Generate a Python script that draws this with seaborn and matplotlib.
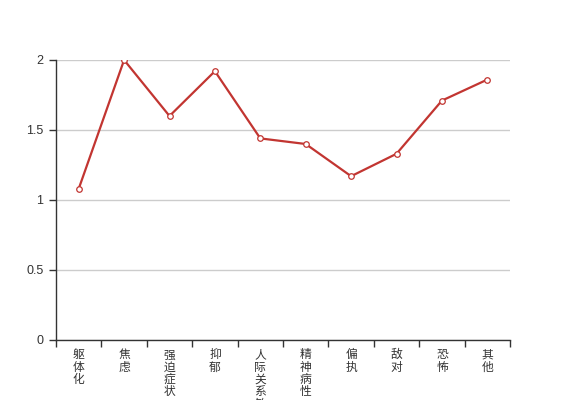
import matplotlib
matplotlib.use("Agg")
from matplotlib import pyplot as plt
import numpy as np
import pandas as pd
import seaborn as sns

categories = ["躯体化", "焦虑", "强迫症状", "抑郁", "人际关系敏感",
              "精神病性", "偏执", "敌对", "恐怖", "其他"]
scores = [1.08, 2.0, 1.6, 1.92, 1.44, 1.4, 1.17, 1.33, 1.71, 1.86]
y_ticks = [0, 0.5, 1, 1.5, 2]

sns.set_style("white")
plt.rcParams['font.family'] = ['Noto Sans CJK SC', 'DejaVu Sans']

df = pd.DataFrame({"pos": np.arange(len(categories)), "score": scores})

fig = plt.figure(figsize=(5.67, 4), dpi=100)
ax = fig.add_axes([56 / 567, 60 / 400, 454 / 567, 280 / 400])

sns.lineplot(data=df, x="pos", y="score", ax=ax, color="#c23531", linewidth=1.6,
             marker="o", markersize=4, markerfacecolor="white",
             markeredgecolor="#c23531", markeredgewidth=0.9)

ax.set_xlim(-0.5, len(categories) - 0.5)
ax.set_ylim(0, 2)
ax.set_yticks(y_ticks)
ax.set_yticklabels(["0", "0.5", "1", "1.5", "2"], family=["Liberation Sans"])
ax.yaxis.grid(True, color="#cccccc", linewidth=1)
ax.set_axisbelow(True)

# band boundaries get the tick marks, centres get the labels
ax.set_xticks(np.arange(len(categories) + 1) - 0.5)
ax.set_xticklabels([])
ax.set_xticks(np.arange(len(categories)), minor=True)
ax.set_xticklabels(["\n".join(c) for c in categories], minor=True,
                   linespacing=0.93, va="top")
ax.tick_params(axis="x", which="minor", length=0, pad=6)
ax.tick_params(axis="both", which="major", length=5, width=1, color="#333333",
               direction="out", labelsize=9, labelcolor="#333333")
ax.tick_params(axis="x", which="minor", labelsize=8.5, labelcolor="#333333")
ax.tick_params(axis="y", pad=4)
ax.xaxis.set_ticks_position("bottom")
ax.yaxis.set_ticks_position("left")

for side in ["top", "right"]:
    ax.spines[side].set_visible(False)
for side in ["left", "bottom"]:
    ax.spines[side].set_color("#333333")
    ax.spines[side].set_linewidth(1)

ax.set_xlabel("")
ax.set_ylabel("")

fig.savefig("out.png", dpi=100)
